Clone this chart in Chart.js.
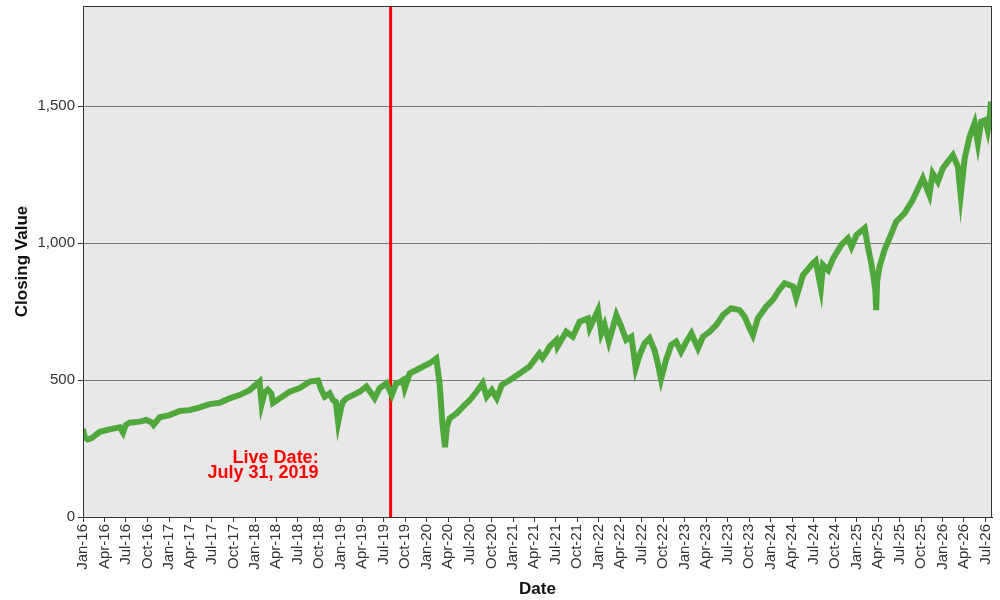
<!DOCTYPE html>
<html>
<head>
<meta charset="utf-8">
<title>Closing Value</title>
<script src="https://cdn.jsdelivr.net/npm/chart.js@4/dist/chart.umd.min.js"></script>
<style>
  body { margin: 0; background: #fff; }
  #wrap { width: 1000px; height: 600px; }
</style>
</head>
<body>
<div id="wrap"><canvas id="chart" width="1000" height="600"></canvas></div>
<script>
const closeDates = [
  '2016-01-01', '2016-01-08', '2016-01-21', '2016-02-07', '2016-03-12', '2016-04-23', '2016-06-05', '2016-06-19',
  '2016-06-30', '2016-07-17', '2016-08-29', '2016-09-26', '2016-10-19', '2016-10-27', '2016-11-22',
  '2017-01-03', '2017-02-15', '2017-03-29', '2017-05-11', '2017-06-22', '2017-08-04', '2017-09-15', '2017-10-27', '2017-12-09',
  '2018-01-20', '2018-01-29', '2018-02-11', '2018-02-24', '2018-03-11', '2018-03-18', '2018-04-03', '2018-04-16',
  '2018-05-28', '2018-07-10', '2018-08-21', '2018-09-26', '2018-10-10', '2018-10-24', '2018-11-14', '2018-11-28',
  '2018-12-10', '2018-12-20', '2019-01-02', '2019-01-10', '2019-01-24', '2019-02-21', '2019-03-21', '2019-04-19',
  '2019-05-10', '2019-05-24', '2019-06-14', '2019-07-13', '2019-08-05', '2019-08-24', '2019-09-08', '2019-09-22',
  '2019-09-29', '2019-10-20', '2019-12-02',
  '2020-01-13', '2020-02-10', '2020-02-24', '2020-03-07', '2020-03-18', '2020-03-26', '2020-04-07', '2020-05-06',
  '2020-06-03', '2020-07-02', '2020-07-30', '2020-08-25', '2020-09-11', '2020-10-03', '2020-10-24', '2020-11-14', '2020-12-19',
  '2021-01-29', '2021-03-12', '2021-04-23', '2021-05-06', '2021-05-28', '2021-06-05', '2021-07-04', '2021-07-09',
  '2021-08-15', '2021-09-12', '2021-10-11', '2021-11-16', '2021-11-23', '2021-12-28',
  '2022-01-11', '2022-01-25', '2022-02-12', '2022-03-16', '2022-04-06', '2022-04-27', '2022-05-19', '2022-06-06',
  '2022-06-23', '2022-07-14', '2022-08-04', '2022-08-25', '2022-09-08', '2022-09-22', '2022-10-13', '2022-11-04',
  '2022-11-25', '2022-12-16',
  '2023-01-07', '2023-01-29', '2023-02-26', '2023-03-19', '2023-04-16', '2023-05-15', '2023-06-12', '2023-07-17',
  '2023-08-22', '2023-09-12', '2023-10-03', '2023-10-17', '2023-11-07', '2023-12-13',
  '2024-01-10', '2024-02-05', '2024-02-29', '2024-04-05', '2024-04-18', '2024-05-17', '2024-06-28', '2024-07-10',
  '2024-08-01', '2024-08-10', '2024-09-01', '2024-09-22', '2024-10-27', '2024-11-24', '2024-12-09', '2024-12-30',
  '2025-02-03', '2025-02-17', '2025-03-03', '2025-03-12', '2025-03-20', '2025-03-24', '2025-03-28', '2025-04-07',
  '2025-04-28',
  '2025-05-19', '2025-06-17', '2025-07-22', '2025-08-26', '2025-10-08', '2025-11-05', '2025-11-19', '2025-12-11',
  '2026-01-01', '2026-02-13', '2026-03-06', '2026-03-18', '2026-04-04', '2026-04-25', '2026-05-16', '2026-05-30',
  '2026-06-13', '2026-07-01', '2026-07-11', '2026-07-18', '2026-07-25'
];

const closeValues = [
  322, 292, 283, 288, 311, 320, 327, 308,
  335, 344, 348, 354, 345, 336, 364,
  372, 387, 390, 400, 412, 417, 433, 445, 463,
  494, 412, 455, 465, 451, 416, 425, 433,
  457, 471, 494, 498, 463, 439, 451, 427,
  420, 345, 400, 421, 433, 445, 457, 476,
  451, 433, 470, 488, 445, 488, 492, 500,
  470, 524, 543,
  561, 579, 488, 342, 255, 330, 360, 378,
  403, 427, 457, 488, 439, 463, 433, 482, 500,
  524, 549, 597, 580, 609, 622, 646, 622,
  676, 658, 713, 725, 690, 755,
  670, 701, 640, 737, 695, 646, 658, 543,
  591, 634, 652, 609, 561, 503, 573, 628,
  640, 603,
  640, 670, 616, 658, 676, 701, 737, 762,
  755, 731, 689, 664, 725, 768,
  792, 828, 853, 841, 800, 883, 926, 935,
  836, 920, 901, 944, 993, 1017, 986, 1029,
  1054, 986, 926, 880, 830, 755, 860, 913,
  974,
  1017, 1078, 1108, 1157, 1236, 1175, 1254, 1224,
  1273, 1321, 1279, 1175, 1309, 1388, 1437, 1364,
  1443, 1449, 1412, 1449, 1516
];

const tickLabels = [
  'Jan-16', 'Apr-16', 'Jul-16', 'Oct-16', 'Jan-17', 'Apr-17', 'Jul-17', 'Oct-17',
  'Jan-18', 'Apr-18', 'Jul-18', 'Oct-18', 'Jan-19', 'Apr-19', 'Jul-19', 'Oct-19',
  'Jan-20', 'Apr-20', 'Jul-20', 'Oct-20', 'Jan-21', 'Apr-21', 'Jul-21', 'Oct-21',
  'Jan-22', 'Apr-22', 'Jul-22', 'Oct-22', 'Jan-23', 'Apr-23', 'Jul-23', 'Oct-23',
  'Jan-24', 'Apr-24', 'Jul-24', 'Oct-24', 'Jan-25', 'Apr-25', 'Jul-25', 'Oct-25',
  'Jan-26', 'Apr-26', 'Jul-26'
];
const yTicks = [0, 500, 1000, 1500];

const liveDate = '2019-07-31';
const liveText = ['Live Date:', 'July 31, 2019'];
const xStart = '2016-01-01';
const xEnd = '2026-07-29';
const yMax = 1865;

const MONTHS = ['Jan', 'Feb', 'Mar', 'Apr', 'May', 'Jun', 'Jul', 'Aug', 'Sep', 'Oct', 'Nov', 'Dec'];
const base = Date.UTC(2016, 0, 1);

function dayOf(s) {
  const [y, m, d] = s.split('-').map(Number);
  return (Date.UTC(y, m - 1, d) - base) / 86400000;
}
function labelDay(lbl) {
  const [mon, yy] = lbl.split('-');
  return (Date.UTC(2000 + Number(yy), MONTHS.indexOf(mon), 1) - base) / 86400000;
}

const points = closeDates.map((d, i) => ({ x: dayOf(d), y: closeValues[i] }));
const tickDays = tickLabels.map(labelDay);
const liveDay = dayOf(liveDate);

const frame = {
  id: 'frame',
  beforeDatasetsDraw(chart) {
    const { ctx, chartArea: a } = chart;
    ctx.save();
    ctx.fillStyle = '#e8e8e8';
    ctx.fillRect(a.left, a.top, a.right - a.left, a.bottom - a.top);
    const ys = chart.scales.y;
    ctx.strokeStyle = '#7a7a7a';
    ctx.lineWidth = 1;
    yTicks.forEach(v => {
      if (v === 0) return;
      const py = Math.round(ys.getPixelForValue(v)) + 0.5;
      ctx.beginPath();
      ctx.moveTo(a.left, py);
      ctx.lineTo(a.right, py);
      ctx.stroke();
    });
    ctx.restore();
  },
  afterDatasetsDraw(chart) {
    const { ctx, chartArea: a, scales } = chart;
    ctx.save();
    ctx.strokeStyle = '#333';
    ctx.lineWidth = 1;
    ctx.strokeRect(a.left + 0.5, a.top + 0.5, a.right - a.left - 1, a.bottom - a.top);
    ctx.fillStyle = '#ff0000';
    ctx.font = 'bold 18px "Liberation Sans", Arial, sans-serif';
    ctx.textAlign = 'right';
    ctx.textBaseline = 'middle';
    const tx = scales.x.getPixelForValue(liveDay) - 72;
    ctx.fillText(liveText[0], tx, scales.y.getPixelForValue(215));
    ctx.fillText(liveText[1], tx, scales.y.getPixelForValue(160));
    ctx.restore();
  }
};

const ctx = document.getElementById('chart').getContext('2d');
new Chart(ctx, {
  type: 'line',
  data: {
    datasets: [
      {
        label: 'Closing Value',
        data: points,
        borderColor: '#50a83c',
        borderWidth: 6,
        pointRadius: 0,
        tension: 0,
        fill: false
      },
      {
        label: 'Live Date',
        data: [{ x: liveDay, y: 0 }, { x: liveDay, y: yMax }],
        borderColor: '#ff0000',
        borderWidth: 3,
        pointRadius: 0,
        fill: false
      }
    ]
  },
  options: {
    responsive: false,
    animation: false,
    parsing: false,
    layout: { padding: { top: 6, right: 8, left: 0, bottom: 0 } },
    plugins: {
      legend: { display: false },
      tooltip: { enabled: false }
    },
    scales: {
      x: {
        type: 'linear',
        min: dayOf(xStart),
        max: dayOf(xEnd),
        afterBuildTicks(scale) {
          scale.ticks = tickDays.map(v => ({ value: v }));
        },
        afterFit(scale) {
          scale.height = 83;
          scale.paddingLeft = 0;
          scale.paddingRight = 0;
        },
        ticks: {
          autoSkip: false,
          maxRotation: 90,
          minRotation: 90,
          padding: 2,
          color: '#333',
          font: { family: '"Liberation Sans", Arial, sans-serif', size: 15 },
          callback(value) {
            const i = tickDays.indexOf(value);
            return i >= 0 ? tickLabels[i] : '';
          }
        },
        grid: {
          drawOnChartArea: false,
          drawTicks: true,
          tickLength: 5,
          color: '#333'
        },
        border: { color: '#111', width: 1 },
        title: {
          display: true,
          text: 'Date',
          color: '#111',
          font: { family: '"Liberation Sans", Arial, sans-serif', size: 17, weight: 'bold' },
          padding: { top: 8, bottom: 0 }
        }
      },
      y: {
        min: 0,
        max: yMax,
        afterBuildTicks(scale) {
          scale.ticks = yTicks.map(v => ({ value: v }));
        },
        afterFit(scale) {
          scale.width = 83;
          scale.paddingTop = 0;
          scale.paddingBottom = 0;
        },
        ticks: {
          padding: 3,
          color: '#333',
          font: { family: '"Liberation Sans", Arial, sans-serif', size: 15 },
          callback(value) {
            return value.toLocaleString('en-US');
          }
        },
        grid: {
          drawOnChartArea: false,
          drawTicks: true,
          tickLength: 5,
          color: '#333'
        },
        border: { color: '#111', width: 1 },
        title: {
          display: true,
          text: 'Closing Value',
          color: '#111',
          font: { family: '"Liberation Sans", Arial, sans-serif', size: 17, weight: 'bold' },
          padding: { top: 12, bottom: 0 }
        }
      }
    }
  },
  plugins: [frame]
});
</script>
</body>
</html>
